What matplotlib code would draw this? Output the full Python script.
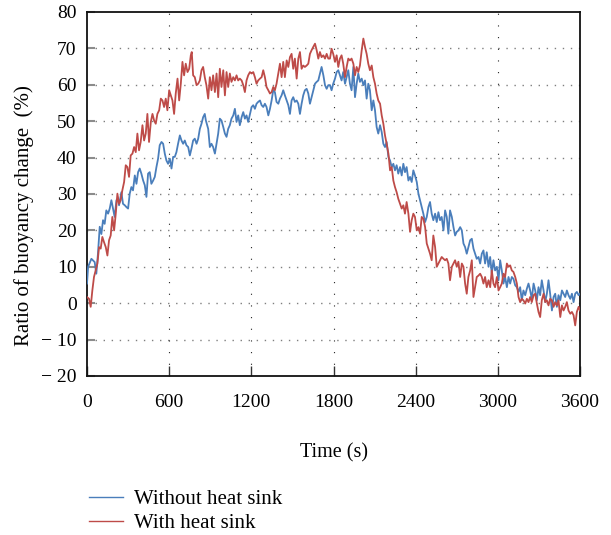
import matplotlib
matplotlib.use("Agg")
import matplotlib.pyplot as plt
from matplotlib.lines import Line2D

plt.rcParams['font.family'] = ['Liberation Serif', 'DejaVu Serif']

# ---- data ----
t_without = [0, 8, 32, 56, 68, 80, 93, 105, 117, 129, 141, 154, 166, 178, 190, 202, 215, 227, 234, 251,
             263, 276, 288, 300, 312, 324, 336, 349, 361, 373, 385, 397, 410, 422, 434, 446, 458, 470, 483, 495,
             507, 519, 531, 544, 556, 568, 580, 592, 605, 617, 629, 641, 653, 665, 678, 690, 702, 714, 726, 739,
             751, 763, 775, 787, 800, 812, 824, 836, 848, 860, 868, 885, 897, 909, 921, 934, 946, 958, 970, 982,
             995, 1007, 1019, 1031, 1043, 1055, 1068, 1080, 1092, 1104, 1116, 1129, 1141, 1153, 1165, 1177, 1190,
             1202, 1214, 1226, 1238, 1250, 1263, 1275, 1287, 1299, 1311, 1324, 1336, 1348, 1360, 1372, 1384, 1397,
             1409, 1421, 1433, 1445, 1458, 1470, 1482, 1494, 1506, 1518, 1531, 1543, 1555, 1567, 1579, 1591, 1604,
             1616, 1628, 1640, 1652, 1665, 1677, 1689, 1701, 1713, 1726, 1738, 1750, 1762, 1774, 1786, 1798, 1811,
             1823, 1835, 1847, 1859, 1871, 1884, 1896, 1908, 1920, 1932, 1945, 1957, 1969, 1981, 1993, 2006, 2018,
             2030, 2042, 2054, 2066, 2079, 2091, 2103, 2115, 2127, 2140, 2152, 2164, 2176, 2188, 2201, 2213, 2225,
             2237, 2249, 2261, 2273, 2286, 2298, 2310, 2322, 2334, 2347, 2359, 2371, 2383, 2395, 2408, 2420, 2432,
             2444, 2456, 2469, 2481, 2493, 2505, 2517, 2529, 2542, 2554, 2566, 2578, 2590, 2603, 2615, 2627, 2639,
             2651, 2664, 2676, 2688, 2700, 2712, 2725, 2737, 2749, 2761, 2773, 2785, 2798, 2810, 2822, 2834, 2846,
             2859, 2871, 2883, 2895, 2907, 2919, 2932, 2944, 2956, 2968, 2980, 2993, 3005, 3017, 3029, 3041, 3053,
             3066, 3078, 3090, 3102, 3114, 3127, 3139, 3151, 3163, 3175, 3187, 3200, 3212, 3224, 3236, 3248, 3261,
             3273, 3285, 3297, 3309, 3321, 3334, 3346, 3358, 3370, 3382, 3395, 3407, 3419, 3431, 3443, 3456, 3468,
             3480, 3492, 3504, 3516, 3529, 3541, 3553, 3565, 3577, 3590, 3600]
v_without = [5.4, 10, 12.2, 11.3, 8.1, 13.6, 21, 19, 22.8, 21.8, 25.5, 24.6, 26, 28.3, 26, 23.7, 28.3, 28.7, 26.9, 30.5,
             27.3, 26.9, 26.4, 26, 30.1, 31.9, 31, 35.1, 32.8, 36, 37, 35.6, 33.7, 32.4, 29.2, 35.6, 36, 32.8, 33.7, 34.7,
             37.4, 39.7, 43.4, 44.3, 43.8, 41.1, 39.2, 38.3, 39.7, 37, 40.2, 40.2, 41.5, 43.8, 46.1, 44.7, 43.8, 44.7, 43.4, 42.9,
             40.6, 42.5, 44.7, 45.2, 43.8, 45.2, 47.9, 49.3, 51.1, 52, 50.2, 47.9, 42.9, 43.8, 42.9, 41.1, 43.8, 46.6, 50.7, 50.2,
             48.4, 46.6, 45.7, 47.9, 48.9, 50.7, 51.6, 53.4, 49.8, 51.6, 48.9, 51.1, 52.5, 50.7, 51.6, 49.8, 52,
             53.9, 54.4, 53.4, 54.8, 55.3, 55.7, 54.4, 53.9, 54.8, 53.9, 51.6, 53.4, 55.7, 58.5, 58, 55.3, 54.8,
             56.2, 57.1, 58.5, 57.1, 55.7, 54.4, 52, 55.7, 56.6, 55.3, 55.7, 54.8, 52, 54.8, 57.1, 58.5, 58.9,
             57.6, 54.8, 56.6, 58.5, 60.3, 60.8, 61.2, 63.1, 64.9, 62.6, 59.9, 58.9, 59.9, 59.9, 58.5, 60.3, 61.7,
             63.5, 64, 62.6, 61.2, 63.5, 60.3, 62.1, 64, 60.3, 58.5, 64.9, 56.6, 60.3, 63.1, 60.8, 61.7, 59.9,
             61.2, 56.2, 60.3, 58.5, 53, 55.7, 53, 48.4, 46.6, 48.9, 47, 43.8, 42.9, 44.3, 40.2, 39.2, 37.4,
             38.3, 36.5, 37.9, 35.6, 37.4, 35.1, 38.3, 36, 37.4, 33.7, 34.7, 33.3, 36.5, 35.1, 33.3, 30.1, 28.3,
             26.4, 24.6, 22.3, 23.7, 26.4, 27.8, 24.6, 22.8, 24.6, 22.3, 25, 22.8, 23.7, 20, 25.5, 23.7, 19.1,
             25.5, 23.7, 20.9, 18.6, 19.6, 20, 20.9, 20, 16.4, 15.4, 13.6, 15.4, 17.3, 17.7, 15, 13.6, 12.2,
             12.7, 10.9, 13.6, 14.5, 10.9, 14, 10, 12.7, 8.1, 11.8, 9, 10, 6.3, 11.8, 9, 5.4, 7.2,
             4.4, 7.2, 5.4, 7.2, 6.7, 4.9, 4.4, 3.1, 4.4, 0.8, 3.5, 2.2, 4, 5.4, 3.5, 1.2, 5.4,
             3.5, 0.8, 4.4, 2.2, 6.3, 3.5, 0.3, 2.6, 6.3, 2.6, -2, 1.7, 2.6, -1, 2.2, 0.8, 3.5,
             2.6, 1.7, 3.5, 2.2, 1.2, 2.6, 0.3, 2.6, 3.1, 2.2, 2.6]

t_with = [0, 15, 27, 39, 51, 63, 76, 88, 100, 112, 124, 137, 149, 161, 173, 185, 198, 210, 222, 234,
          246, 258, 271, 283, 295, 307, 319, 332, 344, 356, 368, 380, 392, 405, 417, 429, 441, 453, 466, 478,
          490, 502, 514, 527, 539, 551, 563, 575, 587, 600, 612, 624, 636, 648, 661, 673, 685, 697, 709, 721,
          734, 746, 758, 765, 775, 787, 800, 812, 824, 836, 848, 860, 872, 885, 897, 909, 921, 934, 946, 958,
          970, 982, 995, 1007, 1019, 1031, 1043, 1055, 1068, 1080, 1092, 1104, 1116, 1129, 1141, 1153, 1165,
          1177, 1190, 1202, 1214, 1226, 1238, 1250, 1263, 1275, 1287, 1299, 1311, 1324, 1336, 1348, 1360, 1372,
          1384, 1397, 1409, 1421, 1433, 1445, 1458, 1470, 1482, 1494, 1506, 1518, 1531, 1543, 1555, 1567, 1579,
          1591, 1604, 1616, 1628, 1640, 1652, 1665, 1677, 1689, 1701, 1713, 1726, 1738, 1750, 1762, 1774, 1786,
          1798, 1811, 1823, 1835, 1847, 1859, 1871, 1884, 1896, 1908, 1920, 1932, 1945, 1957, 1969, 1981, 1993,
          2006, 2018, 2030, 2042, 2054, 2066, 2079, 2091, 2103, 2115, 2127, 2140, 2152, 2164, 2176, 2188, 2201,
          2213, 2225, 2237, 2249, 2261, 2273, 2286, 2298, 2310, 2322, 2334, 2347, 2359, 2371, 2383, 2395, 2408,
          2420, 2432, 2444, 2456, 2469, 2481, 2493, 2505, 2517, 2529, 2542, 2554, 2566, 2578, 2590, 2603, 2615,
          2627, 2639, 2651, 2664, 2676, 2688, 2700, 2712, 2725, 2737, 2749, 2761, 2773, 2785, 2798, 2810, 2822,
          2834, 2846, 2859, 2871, 2883, 2895, 2907, 2919, 2932, 2944, 2956, 2968, 2980, 2993, 3005, 3017, 3029,
          3041, 3053, 3066, 3078, 3090, 3102, 3114, 3127, 3139, 3151, 3163, 3175, 3187, 3200, 3212, 3224, 3236,
          3248, 3261, 3273, 3285, 3297, 3309, 3321, 3334, 3346, 3358, 3370, 3382, 3395, 3407, 3419, 3431, 3443,
          3456, 3468, 3480, 3492, 3504, 3516, 3529, 3541, 3553, 3565, 3577, 3590, 3600]
v_with = [1.7, 1.2, -1, 3.5, 7.2, 9, 10.9, 15.4, 15, 18.2, 16.8, 15.4, 13.1, 17.3, 18.6, 23.7, 20, 24.6, 30.1, 27.3,
          28.3, 31, 33.3, 37.9, 37.4, 34.7, 40.6, 41.1, 42.9, 41.5, 46.6, 42, 44.3, 48.9, 44.7, 46.6, 52, 44.3, 49.8, 52,
          50.2, 49.3, 52, 53, 56.2, 55.7, 53.9, 56.2, 53, 58.5, 57.1, 55.7, 52, 57.6, 61.7, 55.7, 60.3, 66.3, 62.6, 65.8,
          63.5, 64.4, 68.1, 69, 62.6, 62.1, 59.9, 60.3, 61.2, 64, 64.9, 62.1, 59.9, 56.2, 62.1, 58.5, 62.6, 58, 63.1, 56.6,
          64.4, 59.4, 64, 57.1, 63.5, 59.4, 63.1, 60.8, 62.1, 61.2, 62.6, 61.2, 61.7, 61.2, 59.9, 58, 61.2,
          62.6, 63.5, 63.1, 63.5, 62.1, 60.3, 61.2, 61.7, 62.1, 64, 62.1, 59.4, 58.5, 57.6, 58, 59.4, 58.5,
          60.3, 63.1, 65.8, 62.1, 66.3, 62.1, 66.7, 64.9, 67.6, 68.5, 64.4, 67.2, 61.7, 67.2, 69, 64.4, 65.3,
          64.9, 65.3, 65.8, 68.5, 69.5, 70.4, 71.3, 69.5, 67.2, 69, 67.6, 68.1, 67.2, 68.5, 67.2, 67.2, 69.9,
          68.5, 66.3, 68.1, 64.9, 67.2, 68.1, 65.8, 62.1, 64.9, 67.2, 66.7, 67.2, 65.8, 62.6, 64.9, 63.5, 65.3,
          69.5, 72.7, 70.4, 68.5, 65.8, 64, 65.3, 62.1, 60.3, 57.6, 55.7, 54.8, 51.6, 49.3, 46.1, 43.8, 41.1,
          36.5, 37.4, 33.7, 31.9, 30.5, 28.7, 27.3, 26, 26.9, 24.6, 27.8, 24.6, 19.6, 22.8, 24.6, 23.7, 20,
          20.9, 19.1, 23.7, 23.2, 20.9, 16.4, 15, 13.6, 11.8, 18.6, 15.4, 10, 10.9, 11.8, 12.7, 12.2, 11.8,
          12.2, 10.9, 6.3, 10, 10.9, 11.8, 10, 11.4, 7.2, 10.9, 10, 5.4, 2.6, 7.2, 9, 11.8, 1.7,
          4.4, 7.2, 7.6, 8.1, 7.2, 5.4, 7.2, 4.4, 6.3, 4.4, 9, 5.4, 4.4, 7.2, 3.5, 4.4, 5.4,
          8.1, 7.2, 10.9, 10, 10.4, 9, 8.6, 7.2, 5.4, 1.7, 0.3, 1.2, 0.8, -0.1, 1.2, 0.3, 1.7,
          0.3, 2.2, 2.6, -0.1, -2.4, -3.8, 0.8, 2.6, 0.3, 0.8, -0.6, 1.2, 0.8, -1, 0.3, -0.6, 0.8,
          -3.8, -0.6, -2, -1, 0.3, -2, -2.9, -2.4, -3.3, -6.1, -2.4, -1, -2]

x_ticks = [0, 600, 1200, 1800, 2400, 3000, 3600]
y_ticks = [-20, -10, 0, 10, 20, 30, 40, 50, 60, 70, 80]
y_ticklabels = ['\u2212 20', '\u2212 10', '0', '10', '20', '30', '40', '50', '60', '70', '80']
series_labels = ['Without heat sink', 'With heat sink']

# ---- figure ----
W, H = 611, 535
fig = plt.figure(figsize=(W / 100, H / 100), dpi=100)
ax = fig.add_axes([87 / W, 1 - 376 / H, (580 - 87) / W, (376 - 12) / H])

blue = '#4a7ebb'
red = '#be4b48'
ax.plot(t_without, v_without, color=blue, lw=1.3, zorder=3)
ax.plot(t_with, v_with, color=red, lw=1.3, zorder=3)

ax.set_xlim(0, 3600)
ax.set_ylim(-20, 80)
ax.set_xticks(x_ticks)
ax.set_yticks(y_ticks)
ax.set_yticklabels(y_ticklabels)

for y in y_ticks[1:-1]:
    ax.axhline(y, color='#7f7f7f', lw=1.0, ls=(0, (1, 4.8)), zorder=1)
for x in x_ticks[1:-1]:
    ax.axvline(x, color='#222222', lw=0.8, ls=(0, (1, 9.5)), zorder=1)

ax.tick_params(axis='x', direction='in', length=7, width=1.0, color='#333333',
               labelsize=14, pad=13)
ax.tick_params(axis='y', direction='in', length=6, width=1.5, color='#8c8c8c',
               labelsize=14, pad=7.5)
for s in ax.spines.values():
    s.set_linewidth(1.3)
    s.set_color('#111111')

ax.set_xlabel('Time (s)', fontsize=14.5, labelpad=23)
ax.set_ylabel('Ratio of buoyancy change  (%)', fontsize=15)
ax.yaxis.set_label_coords((34 - 87) / 493, (376 - 216) / 364)

handles = [Line2D([], [], color=blue, lw=1.0), Line2D([], [], color=red, lw=1.0)]
fig.legend(handles, series_labels, loc='upper left',
           bbox_to_anchor=(81 / W, 1 - 481 / H), frameon=False,
           fontsize=15, handlelength=1.63, handletextpad=0.53,
           labelspacing=0.23, borderaxespad=0)

fig.savefig('out.png', dpi=100)
